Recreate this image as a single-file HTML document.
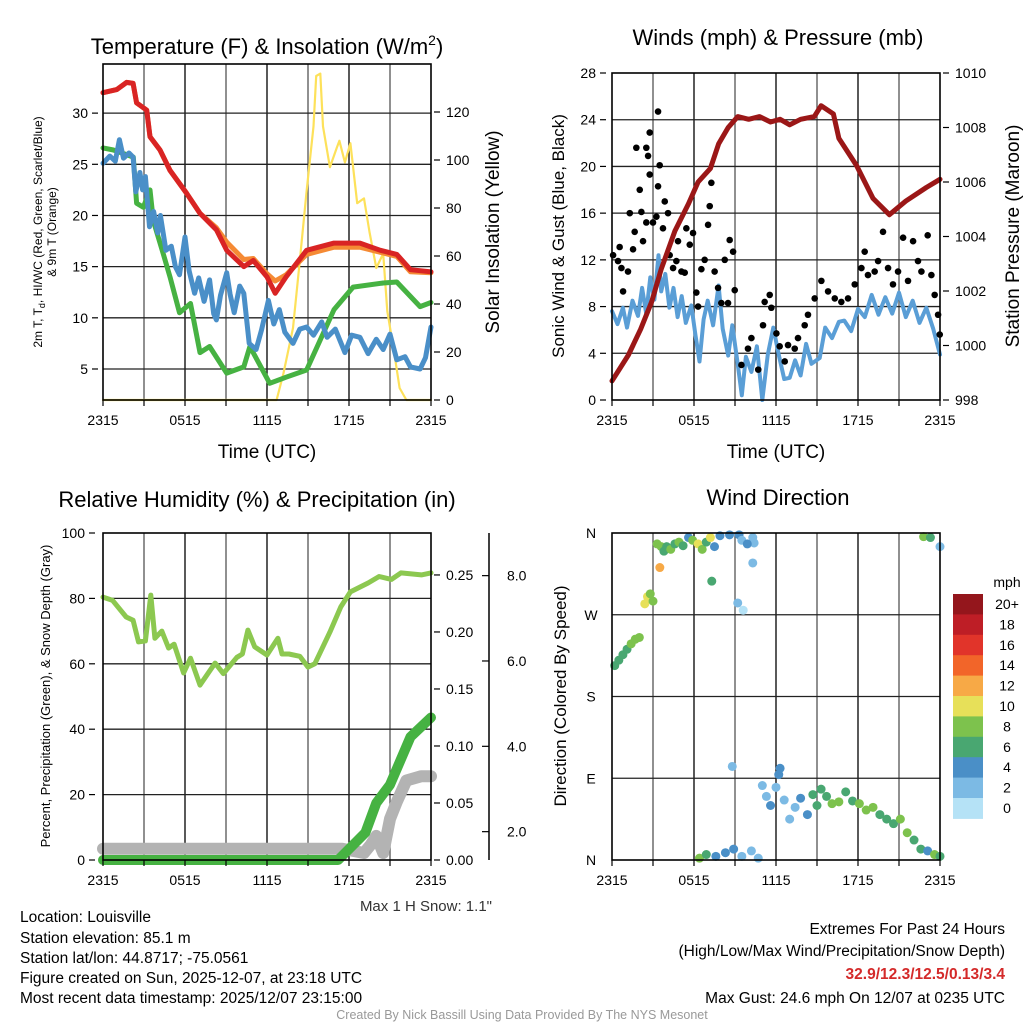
<!DOCTYPE html>
<html><head><meta charset="utf-8"><style>
html,body{margin:0;padding:0;background:#fff;}
svg{display:block;font-family:"Liberation Sans",Arial,sans-serif;}
</style></head><body>
<svg id="chart" width="1024" height="1024" viewBox="0 0 1024 1024">
<g id="grids"></g>
<g id="series"></g>
<g id="axes"></g>
<g id="texts">
<text x="267" y="54" font-size="22" text-anchor="middle">Temperature (F) &amp; Insolation (W/m<tspan font-size="14" dy="-9">2</tspan><tspan dy="9">)</tspan></text>
<text x="778" y="45" font-size="22" text-anchor="middle">Winds (mph) &amp; Pressure (mb)</text>
<text x="257" y="507" font-size="22" text-anchor="middle">Relative Humidity (%) &amp; Precipitation (in)</text>
<text x="778" y="505" font-size="22" text-anchor="middle">Wind Direction</text>
<text x="267" y="458" font-size="19" text-anchor="middle">Time (UTC)</text>
<text x="776" y="458" font-size="19" text-anchor="middle">Time (UTC)</text>
<text transform="translate(42,232) rotate(-90)" font-size="12" text-anchor="middle">2m T, T<tspan font-size="9" dy="3">d</tspan><tspan dy="-3">, HI/WC (Red, Green, Scarlet/Blue)</tspan></text>
<text transform="translate(56,232) rotate(-90)" font-size="12" text-anchor="middle">&amp; 9m T (Orange)</text>
<text transform="translate(499,232) rotate(-90)" font-size="19" text-anchor="middle">Solar Insolation (Yellow)</text>
<text transform="translate(564,236) rotate(-90)" font-size="17" text-anchor="middle">Sonic Wind &amp; Gust (Blue, Black)</text>
<text transform="translate(1019,236) rotate(-90)" font-size="19" text-anchor="middle">Station Pressure (Maroon)</text>
<text transform="translate(50,696) rotate(-90)" font-size="13" text-anchor="middle">Percent, Precipitation (Green), &amp; Snow Depth (Gray)</text>
<text transform="translate(566,696) rotate(-90)" font-size="17" text-anchor="middle">Direction (Colored By Speed)</text>
<text x="492" y="911" font-size="15" text-anchor="end" fill="#333">Max 1 H Snow: 1.1"</text>
<text x="20" y="922" font-size="15.5">Location: Louisville</text>
<text x="20" y="943" font-size="15.5">Station elevation: 85.1 m</text>
<text x="20" y="963" font-size="15.5">Station lat/lon: 44.8717; -75.0561</text>
<text x="20" y="983" font-size="15.5">Figure created on Sun, 2025-12-07, at 23:18 UTC</text>
<text x="20" y="1003" font-size="15.5">Most recent data timestamp: 2025/12/07 23:15:00</text>
<text x="1005" y="934" font-size="15.5" text-anchor="end">Extremes For Past 24 Hours</text>
<text x="1005" y="956" font-size="15.5" text-anchor="end">(High/Low/Max Wind/Precipitation/Snow Depth)</text>
<text x="1005" y="979" font-size="15.5" text-anchor="end" font-weight="bold" fill="#d42a2a">32.9/12.3/12.5/0.13/3.4</text>
<text x="1005" y="1003" font-size="15.5" text-anchor="end">Max Gust: 24.6 mph On 12/07 at 0235 UTC</text>
<text x="522" y="1019" font-size="12.5" text-anchor="middle" fill="#999">Created By Nick Bassill Using Data Provided By The NYS Mesonet</text>
</g>
</svg>
<script>
// ---- data ----
const xTickLabels = ["2315","0515","1115","1715","2315"];
const tempRed = [[0,32],[1,32.3],[1.73,33],[2.2,32.9],[2.46,31],[3.2,30.3],[3.44,27.7],[4.17,26.4],[4.9,24.4],[6.1,22.2],[7.1,20.2],[8.3,18.6],[9.05,16.6],[10.3,15],[11,15.6],[12,14],[12.6,12.4],[13.4,14],[14.9,16.6],[16.9,17.3],[18.8,17.3],[20.3,16.6],[21.5,16.2],[22.5,14.7],[24,14.5]];
const tempOrange = [[0,32],[1,32.3],[1.73,33],[2.2,32.9],[2.46,31],[3.2,30.3],[3.44,27.7],[4.17,26.4],[4.9,24.4],[6.1,22.2],[7.1,20.2],[8.3,18.8],[9.05,17.4],[10.3,15.7],[11,15.8],[12,14.3],[12.6,13.6],[13.4,14.2],[14.9,16.2],[16.9,16.9],[18.8,16.9],[20.3,16.4],[21.5,16],[22.5,14.5],[24,14.4]];
const dewGreen = [[0,26.6],[0.76,26.4],[2.22,25.7],[2.46,21.2],[2.95,20.8],[3.44,22.5],[3.68,19.5],[4.4,16.3],[4.9,14],[5.6,10.5],[6.4,11.4],[7.1,6.6],[7.8,7.2],[9.05,4.6],[10.3,5.2],[10.75,7.2],[12.2,3.6],[13.4,4.2],[14.9,4.9],[16.9,10.8],[18.3,13],[20.5,13.4],[21.5,13.5],[23.2,11.1],[24,11.5]];
const chillBlue = [[0,25.1],[0.5,25.8],[0.9,25.3],[1.2,27.4],[1.5,25.6],[1.9,26.1],[2.2,25.7],[2.4,22.3],[2.7,24.2],[2.9,22.5],[3.1,23.8],[3.4,18.9],[3.7,20.4],[4,18.3],[4.2,20],[4.6,16.6],[5,17],[5.3,15],[5.6,14.2],[6,17.9],[6.3,14.6],[6.7,12.4],[7,13.9],[7.4,11.6],[7.8,13.7],[8.1,10.4],[8.3,9.8],[8.6,12.2],[9.05,14.4],[9.3,12.3],[9.6,10.5],[10,13.1],[10.3,12.4],[10.7,7.5],[11.2,6.9],[11.6,8.8],[12.1,11.7],[12.5,9.4],[12.9,10.8],[13.3,8.6],[13.9,7.5],[14.4,8.9],[14.9,9.1],[15.4,8.3],[16,9.6],[16.4,8.1],[17,8.9],[17.7,6.6],[18.2,8.3],[18.8,8.1],[19.4,6.5],[20,7.9],[20.5,6.9],[21,8.4],[21.5,5.9],[22.1,6.2],[22.5,5.2],[23.2,5.0],[23.6,6.1],[24,9.1]];
const insolation = [[0,0],[12.7,0],[13.2,11],[13.9,30],[14.4,58],[14.9,87],[15.4,114],[15.6,135],[15.9,136],[16.1,114],[16.6,97],[17.1,105],[17.3,108],[17.7,99],[18.1,107],[18.6,82],[19.1,84],[19.5,70],[20,55],[20.5,61],[20.8,37],[21.3,20],[21.7,5],[22.2,0],[24,0]];
const pressure = [[0,998.7],[1.2,999.65],[2.1,1000.6],[2.9,1001.6],[3.6,1002.8],[4.6,1004.2],[5.6,1005.2],[6.3,1006],[7.2,1006.5],[7.8,1007.4],[8.5,1008],[9.2,1008.4],[10,1008.3],[10.8,1008.4],[11.6,1008.2],[12.3,1008.3],[13,1008.1],[13.8,1008.3],[14.8,1008.4],[15.3,1008.8],[16.2,1008.5],[16.6,1007.6],[17.9,1006.6],[19.1,1005.4],[20.3,1004.8],[21.5,1005.3],[23,1005.8],[24,1006.1]];
const sonicWind = [[0,7.6],[0.4,6.5],[0.8,7.9],[1.1,6.2],[1.5,8.5],[1.9,7.2],[2.2,9.6],[2.5,7.4],[2.8,10.5],[3.1,8.6],[3.4,12.4],[3.6,9.3],[3.9,10.8],[4.2,7.9],[4.5,9.6],[4.8,7.1],[5.1,8.9],[5.4,6.6],[5.8,8.1],[6.1,5.6],[6.4,3.3],[6.7,6.9],[7,8.5],[7.4,6.4],[7.8,9.8],[8.1,6.1],[8.5,3.8],[8.8,6.4],[9.2,3.1],[9.5,0.4],[9.8,3.7],[10.2,2.4],[10.6,4.6],[11,0],[11.4,3.9],[11.8,6.2],[12.2,3.9],[12.6,1.8],[13,1.9],[13.4,3.4],[13.8,2.1],[14.2,4.8],[14.6,3.1],[15.2,3.6],[15.6,6.2],[16.1,5.3],[16.6,6.7],[17,6.8],[17.5,5.9],[18,7.8],[18.5,7.1],[19,9],[19.5,7.3],[20,8.8],[20.5,7.4],[21,9.2],[21.5,7.1],[22,8.5],[22.5,6.6],[23,7.9],[23.5,6.1],[24,3.9]];
const gustHours = [0.08,0.44,0.56,0.69,0.81,1.17,1.3,1.54,1.66,1.78,2.03,2.15,2.27,2.51,2.51,2.64,2.76,2.76,3.0,3.25,3.37,3.37,3.49,3.73,3.86,4.1,4.22,4.47,4.71,4.83,5.08,5.32,5.44,5.69,5.93,6.17,6.3,6.54,6.78,7.03,7.15,7.27,7.51,7.76,8.0,8.25,8.49,8.61,8.86,8.98,9.47,9.95,10.2,10.7,11.05,11.17,11.54,11.66,12.03,12.27,12.64,12.88,13.37,13.61,14.1,14.34,14.83,15.32,15.81,16.3,16.78,17.27,17.76,18.25,18.49,18.73,19.22,19.47,19.83,20.2,20.56,20.93,21.3,21.66,22.03,22.39,22.64,23.1,23.37,23.61,23.86,23.98];
const gustSpeeds = [12.4,11.9,13.1,11.3,9.3,11.0,16.0,12.9,14.4,21.6,18.0,16.1,13.6,15.2,21.6,20.9,22.9,19.3,15.2,15.7,18.3,24.7,20.1,14.7,17.0,16.0,12.4,11.3,11.9,13.6,11.0,10.9,14.7,13.3,14.3,9.2,8.0,11.2,12.0,15.0,16.6,18.6,11.0,9.6,8.3,12.0,8.3,13.7,12.7,9.4,3.0,4.4,5.3,2.6,6.4,8.4,9.0,7.9,5.7,4.6,3.3,4.7,4.4,5.3,6.4,7.3,8.7,10.2,9.3,8.7,8.4,8.7,9.9,11.3,12.7,10.7,11.0,11.9,14.4,11.3,9.9,11.0,13.9,10.2,13.6,11.9,11.0,14.1,10.7,9.0,7.3,5.6];
const rhValues = [[0,80.4],[0.7,79.4],[1.7,74.3],[2.2,73.3],[2.6,66.7],[3.1,67],[3.5,81],[3.8,67.8],[4.3,70],[4.8,64.8],[5.2,66],[5.9,57.2],[6.4,61.7],[7.1,53.5],[8.2,60.2],[8.8,57],[9.8,62],[10.2,63],[10.6,70.3],[11.1,65.2],[12,62.7],[12.8,67.8],[13.1,63],[13.6,63],[14.4,62.3],[15,59],[15.5,60],[16.6,69.7],[17.4,77.4],[18.1,82],[19.4,84.7],[20.2,86.7],[21.1,85.8],[21.8,87.8],[23.3,87.2],[24,87.8]];
const precipValues = [[0,0],[17.2,0],[19.2,0.024],[20,0.05],[21,0.066],[22.5,0.108],[24,0.125]];
const snowDepth = [[0,1.6],[17.5,1.6],[19.1,1.5],[19.6,1.7],[20,1.9],[20.5,1.5],[21,2.3],[21.5,2.7],[22.2,3.2],[23.3,3.3],[24,3.3]];
const dirHours = [0.2,0.5,0.8,1.1,1.4,1.7,2.0,2.4,2.6,2.8,3.0,3.3,3.5,3.6,3.8,4.0,4.3,4.6,4.9,5.2,5.6,5.9,6.3,6.6,6.9,7.2,7.5,7.3,7.9,8.6,9.2,9.6,9.3,9.5,10.3,10.4,9.9,10.3,22.8,23.3,24.0,8.8,12.3,12.2,11.0,11.3,11.6,12.0,12.6,13.0,13.4,13.8,14.3,14.7,15.0,15.3,15.7,16.1,16.6,17.1,17.6,18.1,18.6,19.1,19.6,20.1,20.6,21.1,21.6,22.1,22.6,23.1,23.6,24.0,6.4,6.9,7.6,8.3,8.9,9.5,10.2,10.7];
const dirDegrees = [214,220,226,232,238,243,245,282,290,293,285,348,322,345,340,345,342,348,350,346,355,352,348,342,350,355,345,307,357,358,283,275,358,352,355,349,348,327,356,355,345,103,101,94,82,70,60,80,66,45,58,68,50,72,60,78,70,62,64,75,65,62,55,58,50,45,40,45,30,22,12,10,6,4,2,6,4,8,12,4,10,2];
const dirSpeeds = [7,7,7,6,8,8,8,10,11,9,8,9,13,8,7,7,8,6,9,7,5,9,10,8,7,11,5,6,4,5,2,1,4,3,3,2,4,3,8,7,3,2,4,5,3,2,4,3,2,2,3,5,4,7,6,6,7,9,8,7,6,8,9,8,7,7,6,9,8,7,6,5,8,7,8,6,5,5,4,3,2,2];
const speedBins = ["0","2","4","6","8","10","12","14","16","18","20+"];
const speedColors = ["#b5e2f6","#7cbae4","#4a8fc7","#49a771","#7dc24d","#e7e059","#f7a946","#f26529","#e1342a","#be1e26","#94161c"];

// ---- axes ----
const NS="http://www.w3.org/2000/svg";
const gGrid=document.getElementById('grids'), gSer=document.getElementById('series'), gAx=document.getElementById('axes');
function mk(tag,attrs,parent){const e=document.createElementNS(NS,tag);for(const k in attrs)e.setAttribute(k,attrs[k]);parent.appendChild(e);return e;}
const panels={
  temp:{x0:103,x1:431,y0:64,y1:400},
  wind:{x0:612,x1:940,y0:73,y1:400},
  rh:{x0:103,x1:431,y0:533,y1:860},
  dir:{x0:612,x1:940,y0:533,y1:860}
};
function xs(p,h){return p.x0+(p.x1-p.x0)*h/24;}
function lin(p,lo,hi){return v=>p.y1-(p.y1-p.y0)*(v-lo)/(hi-lo);}
const yTemp=lin(panels.temp,1.97,34.8), yIns=lin(panels.temp,0,140);
const yWind=lin(panels.wind,0,28), yPres=lin(panels.wind,998,1010);
const yRH=lin(panels.rh,0,100), yPre=lin(panels.rh,0,0.2868), ySnow=v=>917-42.67*v;
const yDir=lin(panels.dir,0,360);

function frame(p,name,hLines){
  for(let k=1;k<8;k++){
    const x=xs(p,k*3);
    const l=mk('line',{x1:x,x2:x,y1:p.y0,y2:p.y1,stroke:k%2?'#555':'#000','stroke-width':1.3},gGrid);
    
    
  }
  hLines.forEach(y=>{
    const l=mk('line',{x1:p.x0,x2:p.x1,y1:y,y2:y,stroke:'#222','stroke-width':1.3},gGrid);
    
    
  });
  const r=mk('rect',{x:p.x0,y:p.y0,width:p.x1-p.x0,height:p.y1-p.y0,fill:'none',stroke:'#000','stroke-width':1.6},gAx);
  
  
  for(let k=0;k<=8;k++){
    const x=xs(p,k*3);
    mk('line',{x1:x,x2:x,y1:p.y1,y2:p.y1+6,stroke:'#000','stroke-width':1.2},gAx);
  }
  xTickLabels.forEach((t,i)=>{
    const e=mk('text',{x:xs(p,i*6),y:p.y1+25,'font-size':14,'text-anchor':'middle'},gAx);
    e.textContent=t;
    
    
  });
}
function yLabels(name,vals,fy,x,anchor,fmt){
  vals.forEach(v=>{
    const y=fy(v);
    const e=mk('text',{x:x,y:y+5,'font-size':14,'text-anchor':anchor},gAx);
    e.textContent=fmt?fmt(v):v;
    
    
    const tx=anchor==='end'?x+4:x-12;
    mk('line',{x1:tx,x2:tx+6,y1:y,y2:y,stroke:'#000','stroke-width':1.2},gAx);
  });
}
const tempTicks=[5,10,15,20,25,30], insTicks=[0,20,40,60,80,100,120];
frame(panels.temp,'temp',tempTicks.map(yTemp));
yLabels('temp-y',tempTicks,yTemp,88,'end');
yLabels('insolation-y',insTicks,yIns,446,'start');
const windTicks=[0,4,8,12,16,20,24,28], presTicks=[998,1000,1002,1004,1006,1008,1010];
frame(panels.wind,'wind',windTicks.slice(1,7).map(yWind));
yLabels('wind-y',windTicks,yWind,596,'end');
yLabels('pressure-y',presTicks,yPres,955,'start');
const rhTicks=[0,20,40,60,80,100], preTicks=[0,0.05,0.1,0.15,0.2,0.25], snowTicks=[2,4,6,8];
frame(panels.rh,'rh',[20,40,60,80].map(yRH));
yLabels('rh-y',rhTicks,yRH,85,'end');
yLabels('precip-y',preTicks,yPre,446,'start',v=>v.toFixed(2));
mk('line',{x1:489,x2:489,y1:533,y2:860,stroke:'#000','stroke-width':1.5},gAx);
snowTicks.forEach(v=>{
  const y=ySnow(v);
  mk('line',{x1:482,x2:489,y1:y,y2:y,stroke:'#000','stroke-width':1.2},gAx);
  const e=mk('text',{x:507,y:y+5,'font-size':14},gAx);
  e.textContent=v.toFixed(1);
  
  
});
const dirTickVals=[0,90,180,270,360], dirTickLabels=["N","E","S","W","N"];
frame(panels.dir,'dir',[90,180,270].map(yDir));
dirTickVals.forEach((v,i)=>{
  const e=mk('text',{x:591,y:yDir(v)+5,'font-size':14,'text-anchor':'middle'},gAx);
  e.textContent=dirTickLabels[i];
  
  
});

// ---- series ----
function line(p,data,fy,color,w,name){
  const d=data.map((pt,i)=>(i?'L':'M')+xs(p,pt[0]).toFixed(1)+','+fy(pt[1]).toFixed(1)).join('');
  const e=mk('path',{d:d,fill:'none',stroke:color,'stroke-width':w,'stroke-linejoin':'round','stroke-linecap':'round'},gSer);
  
  
}
line(panels.temp,insolation,yIns,'#fde15a',2.2,'insolation-line');
line(panels.temp,dewGreen,yTemp,'#46b242',5,'dewpoint-line');
line(panels.temp,chillBlue,yTemp,'#4a8fc8',5,'windchill-line');
line(panels.temp,tempOrange,yTemp,'#f58a34',5,'temp-9m-line');
line(panels.temp,tempRed,yTemp,'#d92424',5,'temp-2m-line');
line(panels.wind,sonicWind,yWind,'#5a9ed6',4,'sonic-wind-line');
gustHours.forEach((h,i)=>{
  const c=mk('circle',{cx:xs(panels.wind,h),cy:yWind(gustSpeeds[i]),r:3.3,fill:'#000'},gSer);
  
  
});
line(panels.wind,pressure,yPres,'#9b1717',5,'pressure-line');
line(panels.rh,snowDepth,ySnow,'#b3b3b3',12,'snow-depth-line');
line(panels.rh,precipValues,yPre,'#46b242',10,'precip-line');
line(panels.rh,rhValues,yRH,'#8cc850',5,'humidity-line');
dirHours.forEach((h,i)=>{
  const bin=Math.min(10,Math.floor(dirSpeeds[i]/2));
  const c=mk('circle',{cx:xs(panels.dir,h),cy:yDir(dirDegrees[i]),r:4.5,fill:speedColors[bin]},gSer);
  
  
});
// colorbar
const cbTop=594, cbH=20.4;
const mph=mk('text',{x:1007,y:587,'font-size':14,'text-anchor':'middle'},gAx);
mph.textContent='mph';


for(let i=0;i<11;i++){
  const idx=10-i;
  const r=mk('rect',{x:953,y:cbTop+i*cbH,width:30,height:cbH+0.5,fill:speedColors[idx]},gAx);
  
  
  const t=mk('text',{x:1007,y:cbTop+i*cbH+15,'font-size':14,'text-anchor':'middle'},gAx);
  t.textContent=speedBins[idx];
  
  
}
</script>
</body></html>
